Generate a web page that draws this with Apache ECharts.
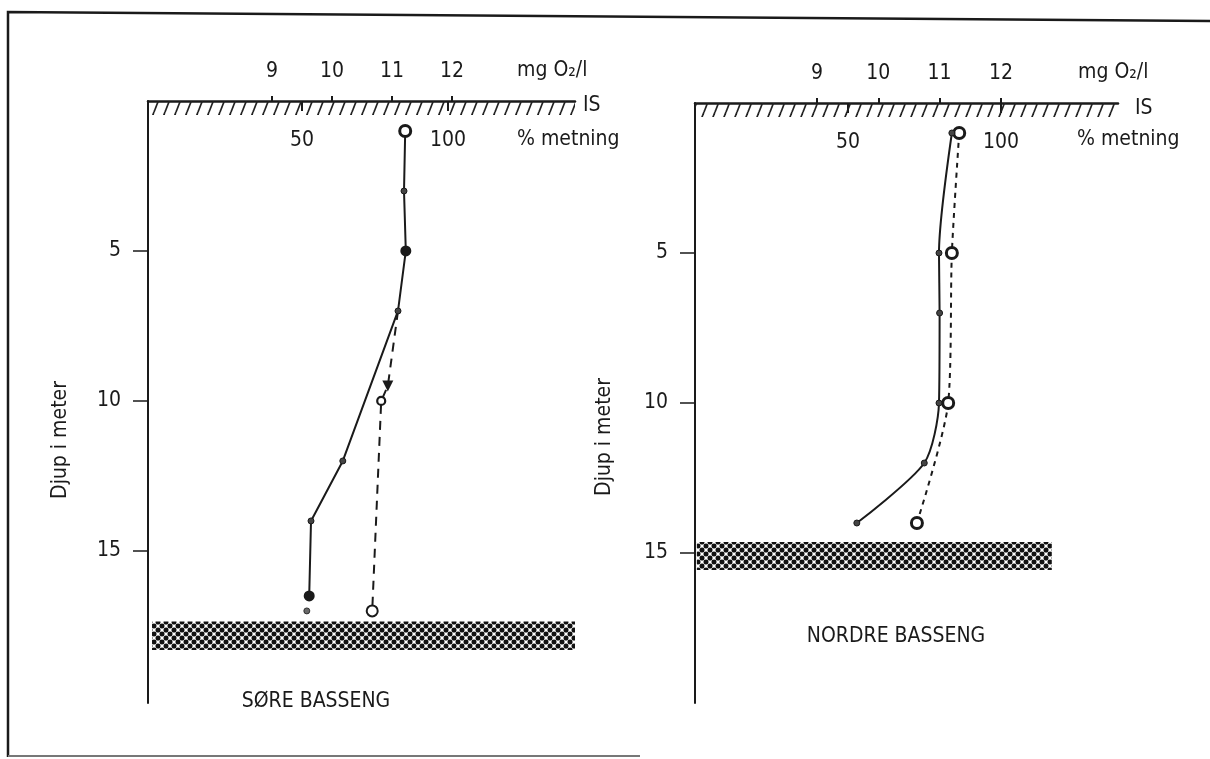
<!DOCTYPE html>
<html><head><meta charset="utf-8">
<script src="https://cdn.jsdelivr.net/npm/echarts@6/dist/echarts.min.js"></script>
<style>html,body{margin:0;padding:0;background:#fff}#c{width:1210px;height:759px}</style>
</head><body><div id="c"></div>
<script>
// ---------- data ----------
const mgTicks = [9, 10, 11, 12];
const pctTicks = [50, 100];
const depthTicks = [5, 10, 15];

// Søre basseng
const soreSolidDepth = [1, 3, 5, 7, 12, 14, 16.5];
const soreSolidMg    = [11.22, 11.2, 11.23, 11.1, 10.18, 9.65, 9.62];
const soreDashDepth  = [7, 9.5, 10, 17];
const soreDashMg     = [11.1, 10.93, 10.82, 10.67];
const soreExtraDepth = [17];
const soreExtraMg    = [9.58];
const soreBottom     = [17.35, 18.3];

// Nordre basseng
const nordreSolidDepth = [1, 5, 7, 10, 12, 14];
const nordreSolidMg    = [11.2, 10.99, 11.0, 10.99, 10.75, 9.65];
const nordreDashDepth  = [1, 5, 10, 14];
const nordreDashMg     = [11.32, 11.2, 11.14, 10.63];
const nordreBottom     = [14.63, 15.57];

// ---------- styles ----------
const INK = '#1a1a1a';
const FONT = "'Liberation Sans Narrow','DejaVu Sans Condensed','DejaVu Sans',sans-serif";
const FS = 21;

const soreSolidMarks = ['ring', 'dot', 'big', 'dot', 'dot', 'dot', 'big'];
const soreDashMarks  = ['none', 'tri', 'smallring', 'open'];
const nordreSolidMarks = ['dot', 'dot', 'dot', 'dot', 'dot', 'dot'];
const nordreDashMarks  = ['ring', 'ring', 'ring', 'ring'];

function markStyle(kind) {
  switch (kind) {
    case 'ring': return {symbol: 'circle', symbolSize: 11, itemStyle: {color: '#fff', borderColor: INK, borderWidth: 3}};
    case 'big': return {symbol: 'circle', symbolSize: 11, itemStyle: {color: INK, borderWidth: 0}};
    case 'dot': return {symbol: 'circle', symbolSize: 6, itemStyle: {color: '#444', borderColor: INK, borderWidth: 1}};
    case 'tri': return {symbol: 'triangle', symbolSize: 11, symbolRotate: 180, itemStyle: {color: INK, borderWidth: 0}};
    case 'smallring': return {symbol: 'circle', symbolSize: 8, itemStyle: {color: '#fff', borderColor: INK, borderWidth: 2.2}};
    case 'open': return {symbol: 'circle', symbolSize: 11, itemStyle: {color: '#fff', borderColor: INK, borderWidth: 2}};
    default: return {symbol: 'none', symbolSize: 0};
  }
}
function build(mg, depth, marks) {
  return mg.map((m, i) => Object.assign({value: [m, depth[i]]}, markStyle(marks[i])));
}

// ---------- patterns ----------
function hatchPattern() {
  const w = 11, h = 28;
  const c = document.createElement('canvas');
  c.width = w; c.height = h;
  const g = c.getContext('2d');
  g.strokeStyle = '#222'; g.lineWidth = 1.7;
  for (const dx of [-w, 0, w]) {
    g.beginPath(); g.moveTo(dx, h); g.lineTo(dx + w, 0); g.stroke();
  }
  return c;
}
function dotPattern() {
  const s = 8;
  const c = document.createElement('canvas');
  c.width = s; c.height = s;
  const g = c.getContext('2d');
  g.fillStyle = '#fff'; g.fillRect(0, 0, s, s);
  g.fillStyle = '#111';
  const pts = [[2, 2], [6, 6], [-2, 6], [6, -2], [10, 6], [6, 10], [2, 10], [10, 2], [-2, 2], [2, -2]];
  for (const [x, y] of pts) { g.beginPath(); g.arc(x, y, 2.5, 0, Math.PI * 2); g.fill(); }
  return c;
}
const HATCH = {image: hatchPattern(), repeat: 'repeat'};
const DOTS = {image: dotPattern(), repeat: 'repeat'};

// ---------- axes ----------
function mgAxis(grid, min, max) {
  return {
    gridIndex: grid, type: 'value', position: 'top', min: min, max: max,
    axisLine: {show: true, onZero: false, lineStyle: {color: INK, width: 2.5}},
    axisTick: {show: true, customValues: mgTicks, length: 5, lineStyle: {color: INK, width: 2}},
    axisLabel: {show: true, customValues: mgTicks, margin: 19, fontSize: FS, fontFamily: FONT, color: INK},
    splitLine: {show: false}
  };
}
function pctAxis(grid, min, max) {
  return {
    gridIndex: grid, type: 'value', position: 'top', min: min, max: max,
    axisLine: {show: false},
    axisTick: {show: true, inside: true, customValues: pctTicks, length: 10, lineStyle: {color: INK, width: 2}},
    axisLabel: {show: true, inside: true, customValues: pctTicks, margin: 29, fontSize: FS, fontFamily: FONT, color: INK},
    splitLine: {show: false}
  };
}
function depthAxis(grid, max) {
  return {
    gridIndex: grid, type: 'value', inverse: true, min: 0, max: max,
    axisLine: {show: true, onZero: false, lineStyle: {color: INK, width: 2}},
    axisTick: {show: true, customValues: depthTicks, length: 15, lineStyle: {color: INK, width: 1.5}},
    axisLabel: {show: true, customValues: depthTicks, margin: 27, fontSize: FS, fontFamily: FONT, color: INK},
    splitLine: {show: false}
  };
}

function areas(xFrom, xTo, bottom) {
  return [
    {data: [[{yAxis: 0, xAxis: xFrom.ice}, {yAxis: 0.47, xAxis: xTo.ice}]], color: HATCH},
    {data: [[{yAxis: bottom[0], xAxis: xFrom.bed}, {yAxis: bottom[1], xAxis: xTo.bed}]], color: DOTS}
  ];
}
function areaSeries(xi, yi, spec) {
  return {
    type: 'line', xAxisIndex: xi, yAxisIndex: yi, data: [], silent: true,
    markArea: {silent: true, label: {show: false}, itemStyle: {color: spec.color, opacity: 1, borderWidth: 0}, data: spec.data}
  };
}

const leftMin = 6.933, leftMax = 14.05, rightMin = 7.01, rightMax = 13.91;
const leftAreas = areas({ice: leftMin, bed: 7.0}, {ice: leftMax, bed: leftMax}, soreBottom);
const rightAreas = areas({ice: rightMin, bed: 7.04}, {ice: rightMax, bed: 12.83}, nordreBottom);

const txt = (text, x, y, align, vAlign, rot) => ({
  type: 'text', x: x, y: y, rotation: rot || 0,
  style: {text: text, font: FS + 'px ' + FONT, fill: INK, textAlign: align || 'left', textVerticalAlign: vAlign || 'middle'}
});

const option = {
  backgroundColor: '#fff',
  animation: false,
  grid: [
    {left: 148, top: 101, width: 427, height: 602},
    {left: 695, top: 103, width: 423, height: 600}
  ],
  xAxis: [
    mgAxis(0, leftMin, leftMax),
    pctAxis(0, -2.74, 143.5),
    mgAxis(1, rightMin, rightMax),
    pctAxis(1, 0, 138.2)
  ],
  yAxis: [depthAxis(0, 20.07), depthAxis(1, 20)],
  series: [
    areaSeries(0, 0, leftAreas[0]),
    areaSeries(0, 0, leftAreas[1]),
    areaSeries(2, 1, rightAreas[0]),
    areaSeries(2, 1, rightAreas[1]),
    {type: 'line', xAxisIndex: 0, yAxisIndex: 0, showAllSymbol: true, z: 5,
      lineStyle: {color: INK, width: 2}, data: build(soreSolidMg, soreSolidDepth, soreSolidMarks)},
    {type: 'line', xAxisIndex: 0, yAxisIndex: 0, showAllSymbol: true, z: 4,
      lineStyle: {color: INK, width: 2, type: [9, 7]}, data: build(soreDashMg, soreDashDepth, soreDashMarks)},
    {type: 'scatter', xAxisIndex: 0, yAxisIndex: 0, z: 5,
      data: build(soreExtraMg, soreExtraDepth, ['dot'])},
    {type: 'line', xAxisIndex: 2, yAxisIndex: 1, showAllSymbol: true, smooth: 0.25, z: 5,
      lineStyle: {color: INK, width: 2}, data: build(nordreSolidMg, nordreSolidDepth, nordreSolidMarks)},
    {type: 'line', xAxisIndex: 2, yAxisIndex: 1, showAllSymbol: true, smooth: 0.25, z: 4,
      lineStyle: {color: INK, width: 2, type: [5, 5]}, data: build(nordreDashMg, nordreDashDepth, nordreDashMarks)}
  ],
  graphic: [
    {type: 'polyline', shape: {points: [[8, 757], [8, 12], [1210, 21]]}, style: {stroke: INK, lineWidth: 2.5, fill: null}},
    {type: 'line', shape: {x1: 8, y1: 756, x2: 640, y2: 756}, style: {stroke: '#777', lineWidth: 2}},
    txt('mg O\u2082/l', 517, 71),
    txt('mg O\u2082/l', 1078, 73),
    txt('IS', 583, 106),
    txt('IS', 1135, 109),
    txt('% metning', 517, 140),
    txt('% metning', 1077, 140),
    txt('SØRE BASSENG', 316, 702, 'center'),
    txt('NORDRE BASSENG', 896, 637, 'center'),
    txt('Djup i meter', 61, 440, 'center', 'middle', Math.PI / 2),
    txt('Djup i meter', 605, 437, 'center', 'middle', Math.PI / 2)
  ]
};
const chart = echarts.init(document.getElementById('c'), null, {renderer: 'canvas'});
chart.setOption(option);
</script>
</body></html>
